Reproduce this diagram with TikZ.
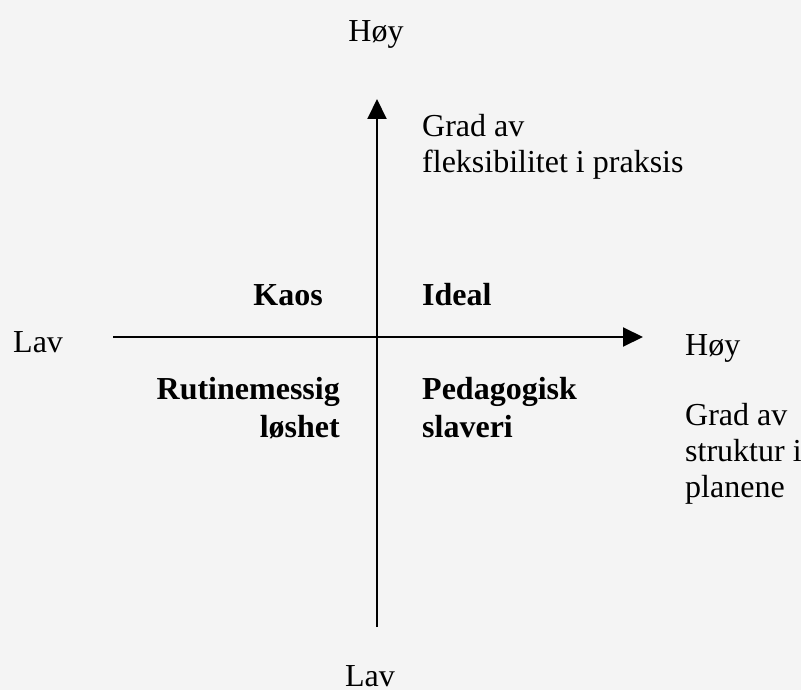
\documentclass[tikz,border=0pt]{standalone}
\usepackage{fontspec}
\setmainfont{Liberation Serif}
\usetikzlibrary{arrows.meta}
\definecolor{bgcol}{RGB}{244,244,244}
\tikzset{
  lbl/.style={inner sep=0pt, font=\fontsize{32}{36}\selectfont},
  qlbl/.style={inner sep=0pt, font=\fontsize{32}{38}\selectfont\bfseries},
  axis/.style={line width=2pt, -{Triangle[length=20pt,width=19pt]}}
}
\begin{document}
\begin{tikzpicture}[x=1pt,y=-1pt]
\fill[bgcol] (0,0) rectangle (801,690);
\useasboundingbox (0,0) rectangle (801,690);
\coordinate (xl) at (113,337);
\coordinate (xr) at (643,337);
\coordinate (yb) at (377,627);
\coordinate (yt) at (377,99);
\draw[axis] (xl) -- (xr);
\draw[axis] (yb) -- (yt);
\node[lbl, anchor=base] (hoytop) at (376,42) {Høy};
\node[lbl, anchor=base] (lavbot) at (370,686) {Lav};
\node[lbl, anchor=base west] (lavl) at (13,352) {Lav};
\node[lbl, anchor=base west] (hoyr) at (685,355) {Høy};
\node[lbl, anchor=base west, align=left] (flex) at (422,173) {Grad av\\fleksibilitet i praksis};
\node[lbl, anchor=base west, align=left] (strukt) at (685,497) {Grad av\\struktur i\\planene};
\node[qlbl, anchor=base east] (kaos) at (323,305) {Kaos};
\node[qlbl, anchor=base west] (ideal) at (422,305) {Ideal};
\node[qlbl, anchor=base east, align=right] (rutine) at (340,437) {Rutinemessig\\løshet};
\node[qlbl, anchor=base west, align=left] (peda) at (422,437) {Pedagogisk\\slaveri};
\end{tikzpicture}
\end{document}
